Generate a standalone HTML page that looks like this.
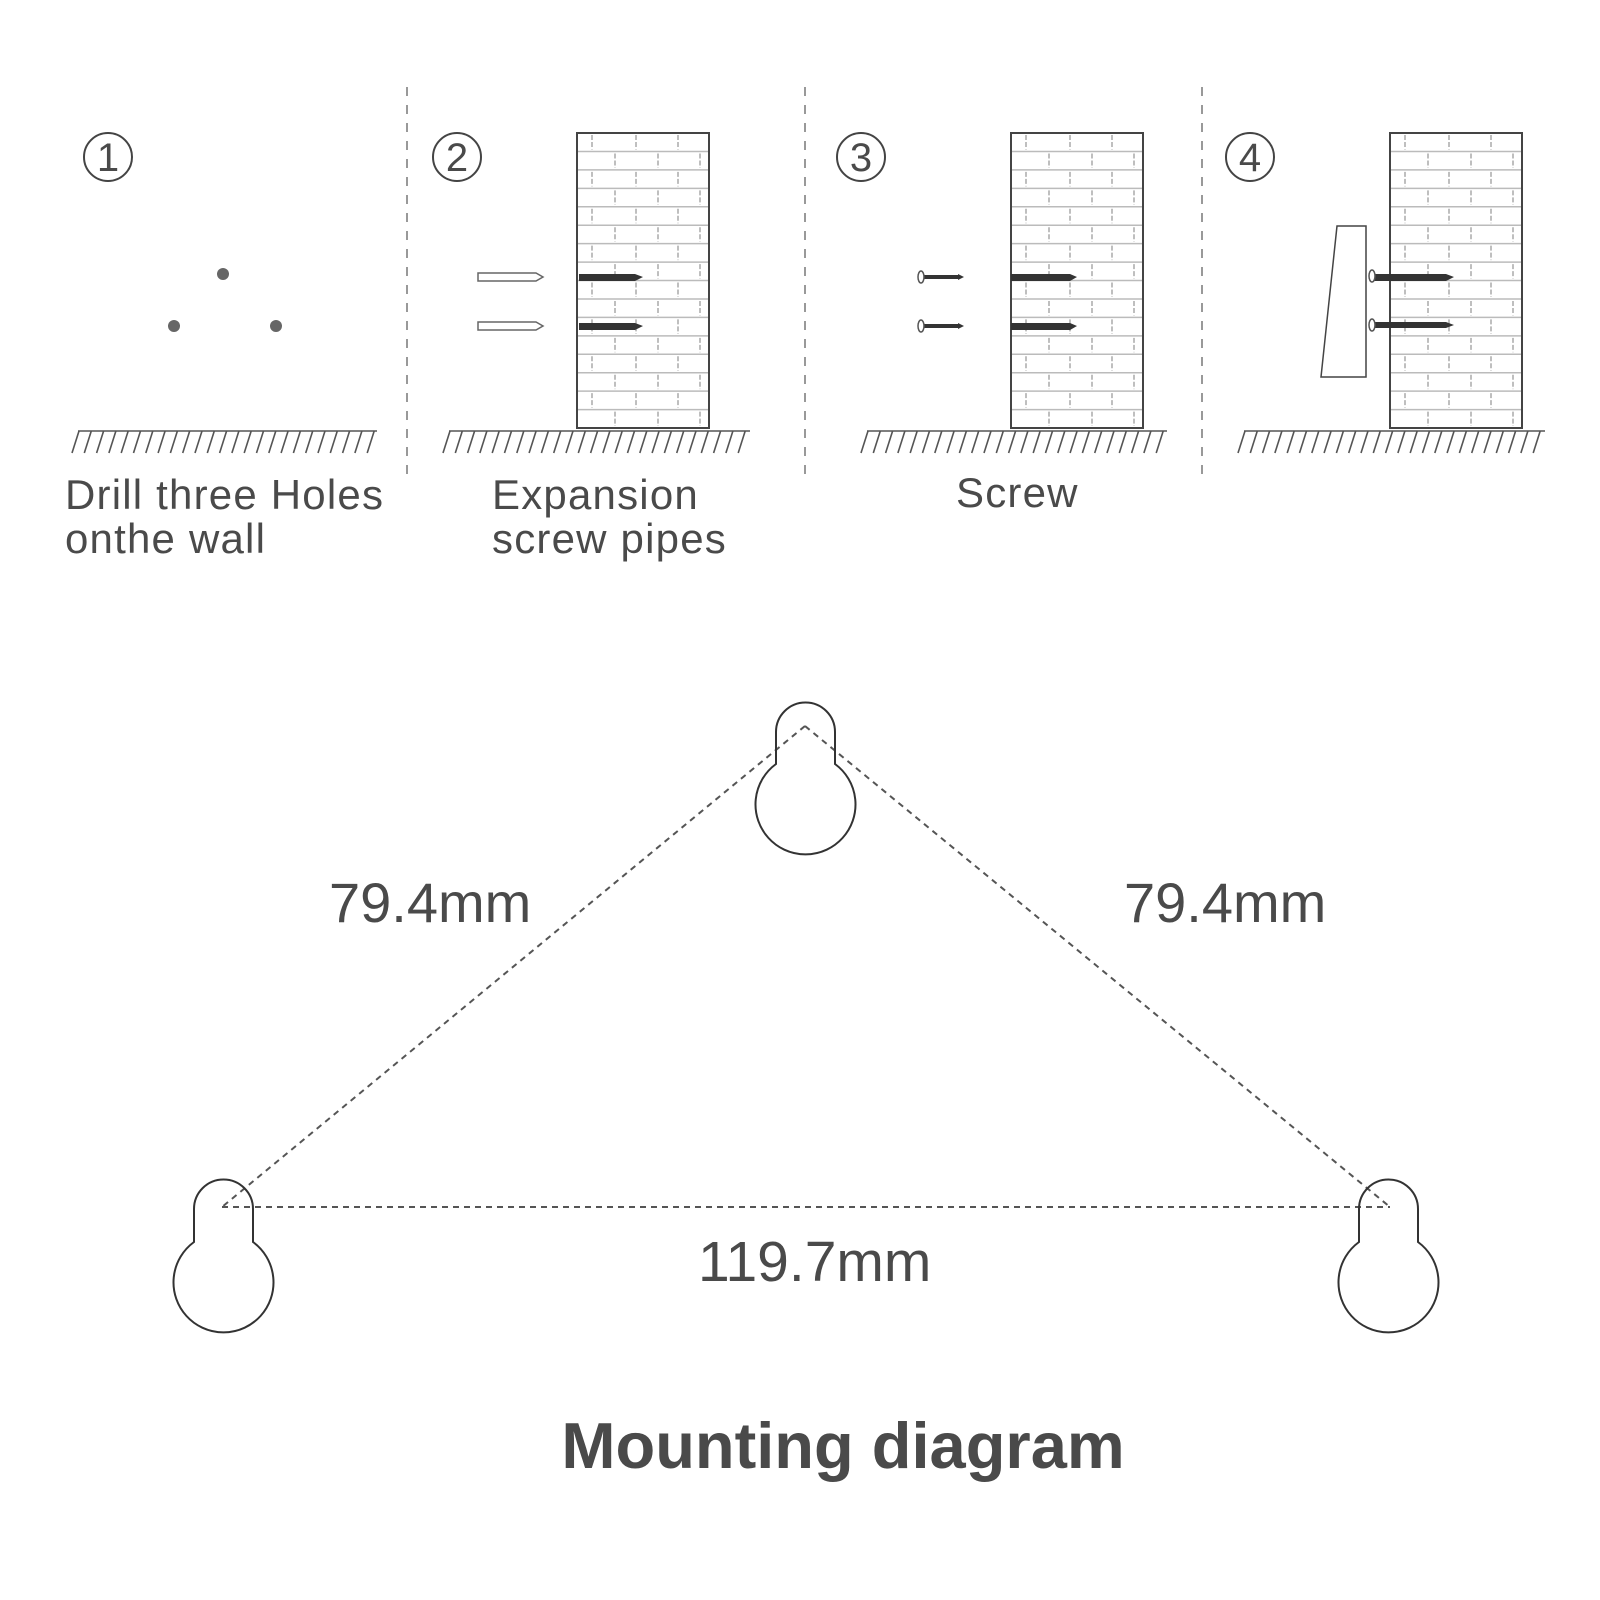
<!DOCTYPE html>
<html><head><meta charset="utf-8"><style>
html,body{margin:0;padding:0;background:#fff}
svg{display:block}
text{font-family:"Liberation Sans",sans-serif;fill:#4a4a4a}
</style></head><body>
<svg id="s" width="1600" height="1600" viewBox="0 0 1600 1600" xmlns="http://www.w3.org/2000/svg">
<g stroke="#999" stroke-width="2" stroke-dasharray="9,9">
<line x1="407" y1="87" x2="407" y2="479"/>
<line x1="805" y1="87" x2="805" y2="479"/>
<line x1="1202" y1="87" x2="1202" y2="479"/>
</g>
<g fill="none" stroke="#444" stroke-width="2">
<circle cx="108" cy="157" r="24"/><circle cx="457" cy="157" r="24"/>
<circle cx="861" cy="157" r="24"/><circle cx="1250" cy="157" r="24"/>
</g>
<g font-size="40" text-anchor="middle">
<text x="108" y="171">1</text><text x="457" y="171">2</text>
<text x="861" y="171">3</text><text x="1250" y="171">4</text>
</g>
<g fill="#666"><circle cx="223" cy="274" r="6"/><circle cx="174" cy="326" r="6"/><circle cx="276" cy="326" r="6"/></g>
<g id="walls"></g>
<g id="hatch" stroke="#555" stroke-width="1.6"></g>
<g fill="#fff" stroke="#666" stroke-width="1.5">
<path d="M478 273 L536 273 L543 277 L536 281 L478 281 Z"/>
<path d="M478 322 L536 322 L543 326 L536 330 L478 330 Z"/>
</g>
<g fill="#333">
<path d="M579 274 L635 274 L643 277 L635 281 L579 281 Z"/>
<path d="M579 323 L635 323 L643 326 L635 330 L579 330 Z"/>
<path d="M1011 274 L1070 274 L1077 277 L1070 281 L1011 281 Z"/>
<path d="M1011 323 L1070 323 L1077 326 L1070 330 L1011 330 Z"/>
<path d="M1373 274 L1446 274 L1454 277 L1446 281 L1373 281 Z"/>
<path d="M1373 322 L1446 322 L1454 325 L1446 328 L1373 328 Z"/>
<rect x="924" y="275" width="34" height="4"/><path d="M958 274 L964 277 L958 280Z"/>
<rect x="924" y="324" width="34" height="4"/><path d="M958 323 L964 326 L958 329Z"/>
</g>
<g fill="#fff" stroke="#555" stroke-width="1.5">
<ellipse cx="921" cy="277" rx="3" ry="6"/><ellipse cx="921" cy="326" rx="3" ry="6"/>
<ellipse cx="1372" cy="276" rx="3" ry="6"/><ellipse cx="1372" cy="325" rx="3" ry="6"/>
<path d="M1337 226 L1366 226 L1366 377 L1321 377 Z" stroke="#444"/>
</g>
<g font-size="42" letter-spacing="1.2">
<text x="65" y="509">Drill three Holes</text>
<text x="65" y="553">onthe wall</text>
<text x="492" y="509">Expansion</text>
<text x="492" y="553">screw pipes</text>
<text x="956" y="507">Screw</text>
</g>
<g stroke="#555" stroke-width="2" stroke-dasharray="6,5">
<line x1="805" y1="726" x2="222" y2="1207"/>
<line x1="805" y1="726" x2="1390" y2="1207"/>
<line x1="222" y1="1207" x2="1390" y2="1207"/>
</g>
<g fill="none" stroke="#333" stroke-width="2">
<path d="M776 764 L776 732 A29.5 29.5 0 0 1 835 732 L835 764 A50 50 0 1 1 776 764 Z"/>
<path d="M194 1242 L194 1209 A29.5 29.5 0 0 1 253 1209 L253 1242 A50 50 0 1 1 194 1242 Z"/>
<path d="M1359 1242 L1359 1209 A29.5 29.5 0 0 1 1418 1209 L1418 1242 A50 50 0 1 1 1359 1242 Z"/>
</g>
<g font-size="56">
<text x="329" y="922">79.4mm</text>
<text x="1124" y="922">79.4mm</text>
</g>
<text x="698" y="1281" font-size="57">119.7mm</text>
<text x="843" y="1468" font-size="65" font-weight="bold" text-anchor="middle" fill="#4a4a4a">Mounting diagram</text>
</svg>
<script>
var ns="http://www.w3.org/2000/svg",W=document.getElementById('walls'),H=document.getElementById('hatch');
function el(p,t,a){var e=document.createElementNS(ns,t);for(var k in a)e.setAttribute(k,a[k]);p.appendChild(e);return e;}
[577,1011,1390].forEach(function(x0){
 var w=132,y0=133,y1=428,rh=(y1-y0)/16;
 for(var i=1;i<16;i++){var y=y0+i*rh;el(W,'line',{x1:x0,y1:y,x2:x0+w,y2:y,stroke:'#bbb','stroke-width':1.5});}
 for(var i=0;i<16;i++){var ya=y0+i*rh,yb=ya+rh;var xs=i%2?[38,81,123]:[15,59,101];
  xs.forEach(function(d){el(W,'line',{x1:x0+d,y1:ya+2,x2:x0+d,y2:yb-2,stroke:'#aaa','stroke-width':1.5,'stroke-dasharray':'5,2'});});}
 el(W,'rect',{x:x0,y:y0,width:w,height:y1-y0,fill:'none',stroke:'#444','stroke-width':2});
});
[[72,377],[443,750],[861,1167],[1238,1545]].forEach(function(g){
 el(H,'line',{x1:g[0]+6,y1:431,x2:g[1],y2:431});
 for(var x=g[0];x<g[1]-6;x+=12.3)el(H,'line',{x1:x,y1:453,x2:x+7,y2:431});
});
</script>
</body></html>
